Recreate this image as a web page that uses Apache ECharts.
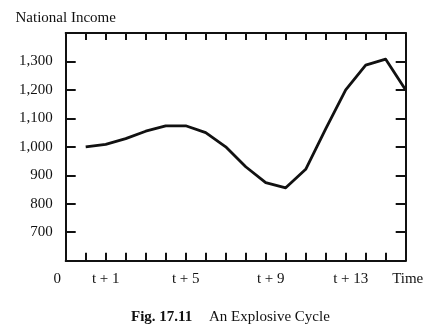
<!DOCTYPE html>
<html><head><meta charset="utf-8">
<script src="https://cdn.jsdelivr.net/npm/echarts@6/dist/echarts.min.js"></script>
<style>html,body{margin:0;padding:0;background:#fff}#c{width:427px;height:336px}</style>
</head><body><div id="c"></div>
<script>
// Data
const periods = [0, 1, 2, 3, 4, 5, 6, 7, 8, 9, 10, 11, 12, 13, 14, 15, 16];
const income = [1000, 1009, 1029, 1055, 1074, 1074, 1050, 1000, 930, 874, 856, 921, 1063, 1200, 1287, 1308, 1200];
const xTickValues = [-1, 1, 5, 9, 13, 16];
const xTickLabels = ['0', 't + 1', 't + 5', 't + 9', 't + 13', 'Time'];
const yTickLabels = [700, 800, 900, 1000, 1100, 1200, 1300];
const yAxisTitle = 'National Income';
const captionFig = 'Fig. 17.11';
const captionText = 'An Explosive Cycle';

const FONT = '"Liberation Serif", "DejaVu Serif", serif';
const INK = '#111';

const chart = echarts.init(document.getElementById('c'), null, {renderer: 'canvas'});

function fmtNum(v) { return v.toLocaleString('en-US'); }

const xCommon = {
  type: 'value', min: -1, max: 16, interval: 1,
  splitLine: {show: false},
  axisLine: {show: true, onZero: false, lineStyle: {color: INK, width: 2}},
};
const yCommon = {
  type: 'value', min: 600, max: 1400, interval: 100,
  splitLine: {show: false},
  axisLine: {show: true, onZero: false, lineStyle: {color: INK, width: 2}},
  axisTick: {show: true, inside: true, length: 10, lineStyle: {color: INK, width: 2}}
};

const option = {
  backgroundColor: '#fff',
  animation: false,
  grid: {left: 65.7, right: 21.3, top: 33, bottom: 75.3, containLabel: false},
  xAxis: [
    Object.assign({}, xCommon, {
      position: 'bottom',
      axisTick: {show: true, inside: true, length: 8, lineStyle: {color: INK, width: 2}},
      axisLabel: {
        show: true, margin: 11, showMinLabel: true, showMaxLabel: true,
        fontFamily: FONT, fontSize: 15, color: INK,
        formatter: function (v) {
          const i = xTickValues.indexOf(v);
          if (i < 0) return '';
          if (v === -1) return '{o|' + xTickLabels[i] + '}';
          if (v === 16) return '{t|' + xTickLabels[i] + '}';
          if (v >= 9) return '{s|' + xTickLabels[i] + '}';
          return xTickLabels[i];
        },
        rich: {
          o: {fontFamily: FONT, fontSize: 15, color: INK, padding: [0, 17, 0, 0]},
          t: {fontFamily: FONT, fontSize: 15, color: INK, padding: [0, 0, 0, 4]},
          s: {fontFamily: FONT, fontSize: 15, color: INK, padding: [0, 0, 0, 10]}
        }
      }
    }),
    Object.assign({}, xCommon, {
      position: 'top',
      axisTick: {show: true, inside: true, length: 7, lineStyle: {color: INK, width: 2}},
      axisLabel: {show: false}
    })
  ],
  yAxis: [
    Object.assign({}, yCommon, {
      position: 'left',
      name: yAxisTitle, nameLocation: 'end', nameGap: 7,
      nameTextStyle: {fontFamily: FONT, fontSize: 15, color: INK, align: 'center'},
      axisLabel: {
        show: true, margin: 13, fontFamily: FONT, fontSize: 15, color: INK,
        formatter: function (v) { return yTickLabels.indexOf(v) >= 0 ? fmtNum(v) : ''; }
      }
    }),
    Object.assign({}, yCommon, {
      position: 'right',
      axisLabel: {show: false}
    })
  ],
  series: [{
    type: 'line',
    xAxisIndex: 0, yAxisIndex: 0,
    data: periods.map((p, i) => [p, income[i]]),
    showSymbol: false, symbol: 'none',
    lineStyle: {color: INK, width: 2.8, join: 'round'},
    clip: false
  }],
  graphic: [
    {type: 'text', left: 131, top: 310,
     style: {text: captionFig, font: 'bold 15px ' + FONT, fill: INK}},
    {type: 'text', left: 209, top: 310,
     style: {text: captionText, font: '15px ' + FONT, fill: INK}}
  ]
};
chart.setOption(option);
</script>
</body></html>
